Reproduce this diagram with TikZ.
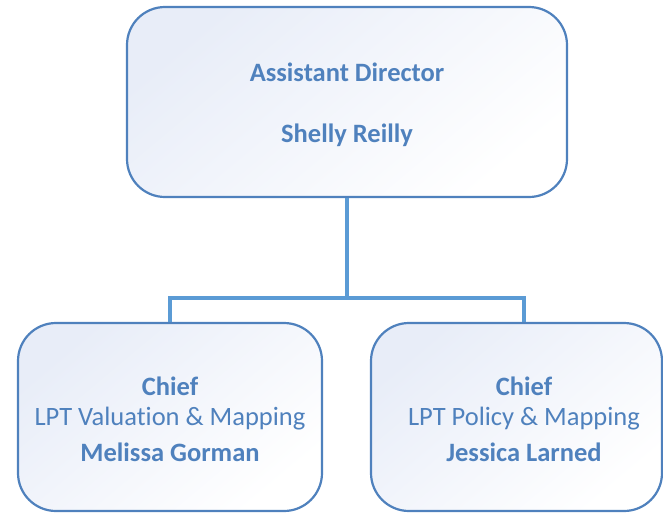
\documentclass[tikz,border=0pt]{standalone}
\usepackage{fontspec}
\setmainfont{Carlito}[Ligatures=NoCommon]
\definecolor{boxline}{HTML}{4F81BD}
\definecolor{conn}{HTML}{5B9BD5}
\definecolor{txt}{HTML}{4F81BD}
\definecolor{shadetop}{HTML}{E8EDF8}
\begin{document}
\begin{tikzpicture}[x=1pt,y=-1pt,
  orgbox/.style={draw=boxline, line width=2.2pt, rounded corners=38pt,
    top color=shadetop, bottom color=white, shading angle=40},
  conline/.style={draw=conn, line width=4.5pt},
  lbl/.style={text=txt, font=\fontsize{26.5}{30}\selectfont, anchor=center, inner sep=0pt}]
\useasboundingbox (0,0) rectangle (663,514);
\path[orgbox] (127,7) rectangle (567,197);
\path[orgbox] (18,323) rectangle (322,511);
\path[orgbox] (371,323) rectangle (662,511);
\coordinate (top) at (347,198);
\coordinate (mid) at (347,298);
\coordinate (ml) at (170,298);
\coordinate (mr) at (524,298);
\coordinate (bl) at (170,322);
\coordinate (br) at (524,322);
\draw[conline] (top) -- (mid);
\draw[conline, line cap=rect] (ml) -- (mr);
\draw[conline] (ml) -- (bl);
\draw[conline] (mr) -- (br);
\node[lbl] (t1) at (347,72) {\textbf{Assistant Director}};
\node[lbl] (t2) at (347,135) {\textbf{Shelly Reilly}};
\node[lbl] (l1) at (170,386) {\textbf{Chief}};
\node[lbl] (l2) at (170,419) {LPT Valuation \& Mapping};
\node[lbl] (l3) at (170,452) {\textbf{Melissa Gorman}};
\node[lbl] (r1) at (524,386) {\textbf{Chief}};
\node[lbl] (r2) at (524,419) {LPT Policy \& Mapping};
\node[lbl] (r3) at (524,452) {\textbf{Jessica Larned}};
\end{tikzpicture}
\end{document}
